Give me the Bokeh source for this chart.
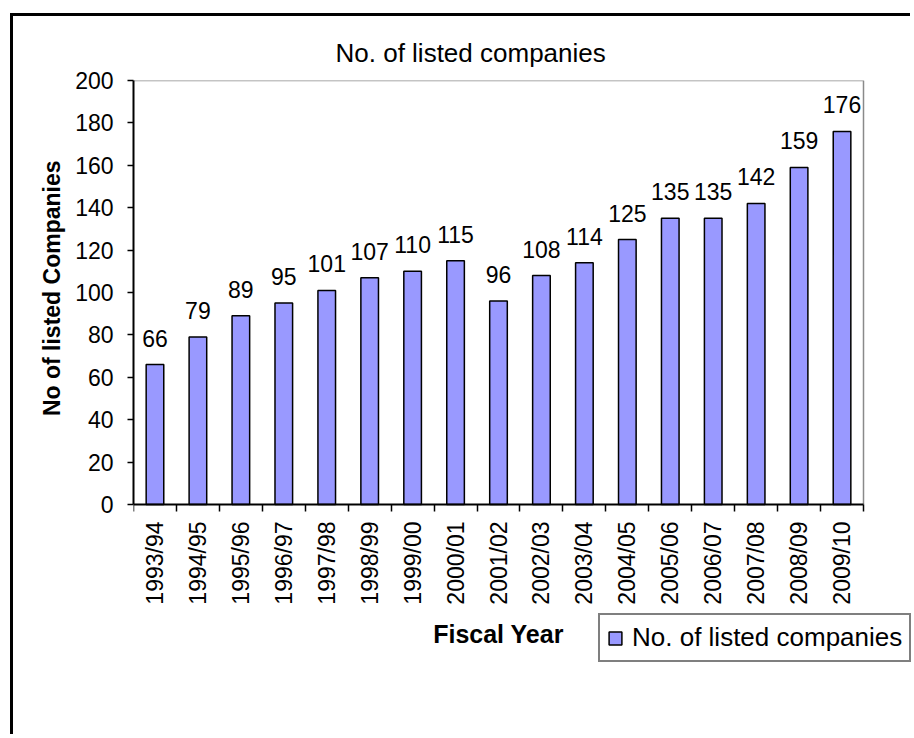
from bokeh.plotting import figure
from bokeh.models import FixedTicker, ColumnDataSource, LabelSet, Legend, Title
from bokeh.core.properties import value
from bokeh.embed import file_html
from bokeh.resources import INLINE
import math

years = ["1993/94", "1994/95", "1995/96", "1996/97", "1997/98", "1998/99", "1999/00",
         "2000/01", "2001/02", "2002/03", "2003/04", "2004/05", "2005/06", "2006/07",
         "2007/08", "2008/09", "2009/10"]
companies = [66, 79, 89, 95, 101, 107, 110, 115, 96, 108, 114, 125, 135, 135, 142, 159, 176]
y_ticks = [0, 20, 40, 60, 80, 100, 120, 140, 160, 180, 200]
y_min, y_max = 0, 200

FONT = "Liberation Sans"

# layout (pixels)
W, H = 900, 721
BL, BT = 120, 64            # left / top borders
PLOT_W, PLOT_H = 730, 424   # size of the drawn chart area inside the frame
FRAME_W, FRAME_H = W - BL, H - BT

n = len(years)
x0 = -0.5
x1 = x0 + n * FRAME_W / PLOT_W
y0 = y_max - (y_max - y_min) * FRAME_H / PLOT_H

idx = list(range(n))
src = ColumnDataSource(dict(x=idx, y=companies, lbl=[str(v) for v in companies]))

p = figure(width=W, height=H, output_backend="svg", toolbar_location=None,
           x_range=(x0, x1), y_range=(y0, y_max),
           min_border_left=BL, min_border_right=0, min_border_top=BT, min_border_bottom=0,
           title="No. of listed companies",
           styles={"border-left": "3px solid black", "border-top": "3px solid black",
                   "margin-left": "10px", "margin-top": "13px"})

p.title.align = "left"
p.title.offset = 202
p.title.text_font = FONT
p.title.text_font_size = "26px"
p.title.text_font_style = "normal"
p.title.text_color = "black"
p.title.standoff = 25

p.xgrid.visible = False
p.ygrid.visible = False
p.outline_line_color = None
p.background_fill_color = "white"
p.border_fill_color = "white"

# gray plot-area border (top and right)
p.line(x=[x0, n - 0.5, n - 0.5], y=[y_max, y_max, y_min], line_color="#8a8a8a", line_width=1.5)

r = p.vbar(x="x", top="y", width=0.41, source=src, fill_color="#9999FF",
           line_color="black", line_width=1.5)

labels = LabelSet(x="x", y="y", text="lbl", source=src, text_align="center",
                  text_baseline="alphabetic", y_offset=18, text_font=value(FONT),
                  text_font_size="23px", text_color="black")
p.add_layout(labels)

xa = p.xaxis[0]
xa.fixed_location = y_min
xa.bounds = (x0, n - 0.5)
xa.ticker = FixedTicker(ticks=idx, minor_ticks=[i - 0.5 for i in range(n + 1)])
xa.major_label_overrides = {i: y for i, y in enumerate(years)}
xa.major_label_orientation = math.pi / 2
xa.major_tick_out = 0
xa.major_tick_in = 0
xa.minor_tick_out = 7
xa.minor_tick_in = 0
xa.minor_tick_line_color = "black"
xa.minor_tick_line_width = 1.5
xa.axis_line_color = "black"
xa.axis_line_width = 2
xa.major_label_standoff = 10
xa.major_label_text_font = FONT
xa.major_label_text_font_size = "23px"
xa.major_label_text_color = "black"
xa.axis_label = "Fiscal Year"
xa.axis_label_text_font = FONT
xa.axis_label_text_font_style = "bold"
xa.axis_label_text_font_size = "25px"
xa.axis_label_text_color = "black"
xa.axis_label_standoff = 12

ya = p.yaxis[0]
ya.bounds = (y_min, y_max)
ya.ticker = FixedTicker(ticks=y_ticks, minor_ticks=[])
ya.major_tick_out = 6
ya.major_tick_in = 0
ya.major_tick_line_color = "black"
ya.major_tick_line_width = 1.5
ya.axis_line_color = "black"
ya.axis_line_width = 2
ya.major_label_standoff = 14
ya.major_label_text_font = FONT
ya.major_label_text_font_size = "23px"
ya.major_label_text_color = "black"

# y-axis title, centred on the 0-200 chart area (top-anchored)
ytitle = Title(text="No of listed Companies", align="right", offset=80,
               text_font=FONT, text_font_style="bold", text_font_size="23px",
               text_color="black", standoff=15)
p.add_layout(ytitle, "left")

legend = Legend(items=[("No. of listed companies", [r])], location=(465, 75),
                border_line_color="black", border_line_width=2,
                label_text_font=FONT, label_text_font_size="26px",
                label_text_color="black", glyph_width=16, glyph_height=16,
                label_standoff=9, padding=7, margin=0, spacing=0,
                background_fill_color="white", background_fill_alpha=1)
p.add_layout(legend, "center")

open("out.html", "w").write(file_html(p, INLINE))
